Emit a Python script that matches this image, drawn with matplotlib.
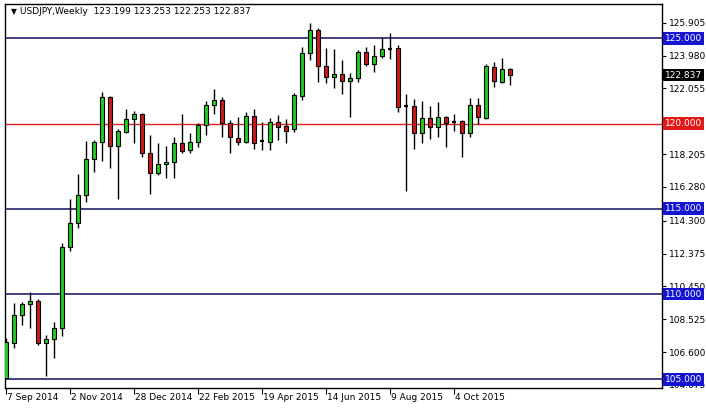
import matplotlib
matplotlib.use("Agg")
import matplotlib.pyplot as plt
from matplotlib.transforms import blended_transform_factory

# weekly USDJPY candles, 7 Sep 2014 .. 22 Nov 2015
opens = [105.10, 107.15, 108.75, 109.40, 109.59, 107.11, 107.35, 107.99, 112.74, 114.15,
         115.79, 117.90, 118.90, 121.54, 118.68, 119.52, 120.25, 120.54, 118.25, 117.08,
         117.61, 117.73, 118.84, 118.43, 118.90, 119.92, 121.09, 121.38, 120.01, 119.17,
         118.94, 120.44, 118.95, 118.94, 120.07, 119.86, 119.66, 121.63, 124.12, 125.49,
         123.39, 122.71, 122.89, 122.48, 122.65, 124.18, 123.48, 123.98, 124.40, 124.45,
         121.03, 121.03, 119.43, 120.31, 119.78, 120.37, 120.11, 120.15, 119.43, 121.09,
         120.34, 123.33, 122.45, 123.199]
highs = [107.40, 109.46, 109.55, 110.10, 109.70, 107.60, 108.34, 112.98, 115.57, 117.02,
         118.98, 119.04, 121.83, 121.60, 119.65, 120.84, 120.74, 120.64, 119.33, 118.84,
         118.68, 119.19, 120.54, 119.46, 120.01, 121.32, 122.03, 121.57, 120.21, 120.40,
         120.70, 120.84, 120.07, 120.31, 120.50, 120.27, 121.77, 124.47, 125.88, 125.59,
         124.41, 124.37, 123.73, 122.95, 124.31, 124.47, 124.61, 125.06, 125.29, 124.61,
         121.72, 121.44, 121.32, 121.03, 121.28, 120.44, 120.56, 120.21, 121.52, 121.48,
         123.48, 123.59, 123.83, 123.253]
lows = [105.05, 106.82, 108.18, 108.00, 107.01, 105.19, 106.23, 107.56, 112.54, 113.86,
        115.42, 117.18, 117.80, 117.41, 115.56, 119.43, 118.84, 118.02, 115.85, 116.98,
        116.82, 116.82, 118.29, 118.25, 118.61, 119.33, 120.56, 119.23, 118.29, 118.74,
        118.88, 118.51, 118.45, 118.45, 119.04, 118.84, 119.49, 121.38, 123.73, 122.45,
        122.36, 122.07, 121.73, 120.40, 122.45, 123.39, 123.00, 123.83, 123.77, 120.70,
        116.06, 118.49, 118.84, 119.08, 119.19, 118.64, 119.58, 118.06, 119.19, 119.96,
        120.27, 122.16, 122.36, 122.253]
closes = [107.19, 108.75, 109.40, 109.59, 107.11, 107.35, 107.99, 112.74, 114.15, 115.79,
          117.90, 118.90, 121.54, 118.68, 119.56, 120.25, 120.54, 118.25, 117.08, 117.61,
          117.76, 118.84, 118.39, 118.92, 119.92, 121.09, 121.38, 120.01, 119.19, 118.94,
          120.44, 118.88, 118.95, 120.07, 119.82, 119.58, 121.67, 124.12, 125.49, 123.39,
          122.71, 122.89, 122.50, 122.65, 124.21, 123.48, 123.98, 124.37, 124.40, 120.99,
          121.03, 119.43, 120.31, 119.78, 120.37, 120.05, 120.11, 119.43, 121.09, 120.37,
          123.38, 122.50, 123.18, 122.837]

date_labels = ["7 Sep 2014", "2 Nov 2014", "28 Dec 2014", "22 Feb 2015",
               "19 Apr 2015", "14 Jun 2015", "9 Aug 2015", "4 Oct 2015"]
date_pos = [0, 8, 16, 24, 32, 40, 48, 56]

price_ticks = [125.905, 123.980, 122.055, 118.205, 116.280, 114.300,
               112.375, 110.450, 108.525, 106.600, 104.675]

blue_levels = [125.0, 115.0, 110.0, 105.0]
red_level = 120.0
last_price = 122.837

fig = plt.figure(figsize=(7.06, 4.08), dpi=100)
ax = fig.add_axes([5 / 706, 20 / 408, 657 / 706, 384 / 408])
fs = 6.5

# levels
for lvl in blue_levels:
    ax.axhline(lvl, color="#10105e", lw=1.1, zorder=1)
ax.axhline(red_level, color="#e02020", lw=1.0, zorder=1)

# candles
w = 0.56
for i, (o, h, l, c) in enumerate(zip(opens, highs, lows, closes)):
    ax.vlines(i, l, h, color="black", lw=1.0, zorder=2)
    if abs(c - o) < 0.06:
        ax.hlines(o, i - w / 2, i + w / 2, color="black", lw=1.6, zorder=3)
        continue
    col = "#22cc22" if c > o else "#cc1a1a"
    ax.bar(i, abs(c - o), bottom=min(o, c), width=w, color=col,
           edgecolor="black", linewidth=0.8, zorder=3)

ax.set_xlim(-0.1, 82.0)
ax.set_ylim(104.49, 127.01)

ax.yaxis.tick_right()
ax.set_yticks(price_ticks)
ax.set_yticklabels([f"{t:.3f}" for t in price_ticks])
ax.tick_params(axis="y", length=3, width=0.8, labelsize=fs, pad=2)
ax.set_xticks(date_pos)
ax.set_xticklabels([])
ax.tick_params(axis="x", length=4, width=0.8, direction="out")
for sp in ax.spines.values():
    sp.set_linewidth(1.0)

# date labels, left aligned next to the tick
tr_x = blended_transform_factory(ax.transData, fig.transFigure)
for p, lab in zip(date_pos, date_labels):
    ax.text(p + 0.15, 11 / 408, lab, transform=tr_x, fontsize=fs,
            ha="left", va="center")

# price level boxes on the right scale
tr_y = blended_transform_factory(fig.transFigure, ax.transData)
box_x = 665 / 706
for lvl in blue_levels:
    ax.text(box_x, lvl, f"{lvl:.3f}", transform=tr_y, fontsize=fs, color="white",
            ha="left", va="center", clip_on=False, zorder=5,
            bbox=dict(boxstyle="square,pad=0.2", fc="#1414d2", ec="none"))
ax.text(box_x, red_level, f"{red_level:.3f}", transform=tr_y, fontsize=fs,
        color="white", ha="left", va="center", clip_on=False, zorder=5,
        bbox=dict(boxstyle="square,pad=0.2", fc="#e01818", ec="none"))
ax.text(box_x, last_price, f"{last_price:.3f}", transform=tr_y, fontsize=fs,
        color="white", ha="left", va="center", clip_on=False, zorder=5,
        bbox=dict(boxstyle="square,pad=0.2", fc="black", ec="none"))

# header
ax.text(6 / 657, 1 - 8 / 384, "\u25bc", transform=ax.transAxes, fontsize=5.5,
        ha="left", va="center")
ax.text(15 / 657, 1 - 8 / 384,
        "USDJPY,Weekly  %.3f %.3f %.3f %.3f" % (opens[-1], highs[-1], lows[-1], closes[-1]),
        transform=ax.transAxes, fontsize=fs, ha="left", va="center")

fig.savefig("out.png", dpi=100)
